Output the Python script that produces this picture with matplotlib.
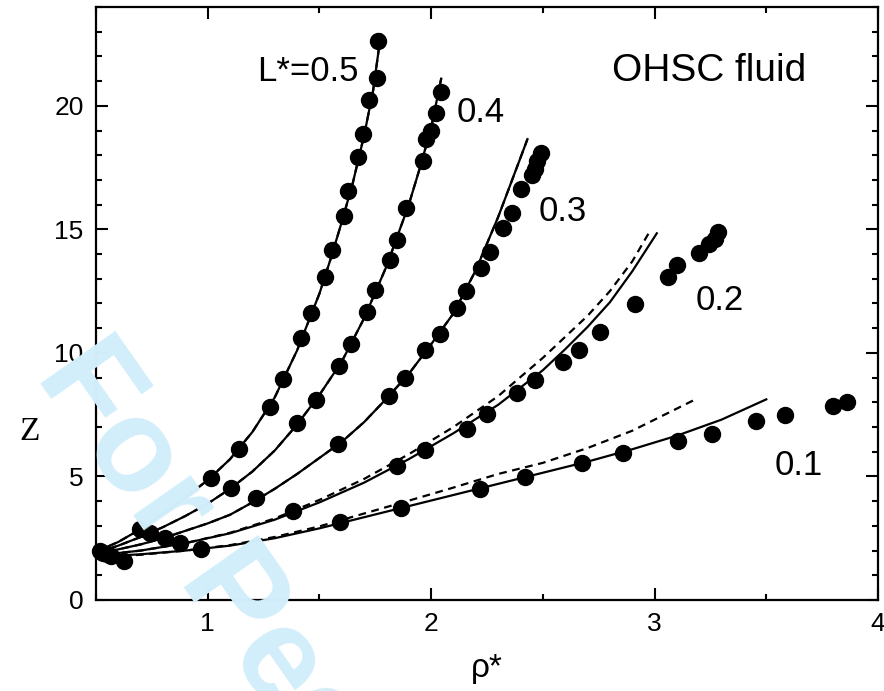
import numpy as np
import matplotlib.pyplot as plt
from matplotlib.ticker import MultipleLocator

plt.rcParams['font.family'] = ['Liberation Sans', 'DejaVu Sans']

# simulation points (rho*, Z) for each elongation L*
rho_05 = [0.52, 0.698, 1.013, 1.140, 1.281, 1.337, 1.416, 1.463, 1.526, 1.556, 1.608, 1.630, 1.674, 1.697, 1.723, 1.756, 1.763]
z_05 = [1.98, 2.87, 4.94, 6.13, 7.81, 8.96, 10.60, 11.60, 13.09, 14.18, 15.56, 16.57, 17.91, 18.86, 20.24, 21.12, 22.63]
rho_04 = [0.53, 0.743, 1.102, 1.400, 1.486, 1.589, 1.640, 1.714, 1.748, 1.815, 1.848, 1.886, 1.963, 1.978, 2.001, 2.023, 2.042]
z_04 = [1.92, 2.73, 4.54, 7.16, 8.08, 9.45, 10.35, 11.67, 12.55, 13.74, 14.57, 15.87, 17.78, 18.65, 18.99, 19.70, 20.57]
rho_03 = [0.55, 0.810, 1.218, 1.585, 1.811, 1.883, 1.974, 2.038, 2.115, 2.157, 2.225, 2.264, 2.322, 2.360, 2.402, 2.453, 2.465, 2.475, 2.490]
z_03 = [1.85, 2.49, 4.11, 6.30, 8.26, 9.00, 10.10, 10.77, 11.81, 12.50, 13.43, 14.10, 15.05, 15.66, 16.63, 17.20, 17.45, 17.75, 18.08]
rho_02 = [0.566, 0.874, 1.382, 1.845, 1.971, 2.160, 2.252, 2.386, 2.463, 2.590, 2.660, 2.758, 2.914, 3.059, 3.099, 3.199, 3.243, 3.270, 3.285]
z_02 = [1.78, 2.29, 3.59, 5.41, 6.09, 6.93, 7.54, 8.38, 8.92, 9.62, 10.13, 10.84, 11.99, 13.06, 13.54, 14.03, 14.41, 14.61, 14.88]
rho_01 = [0.624, 0.969, 1.592, 1.867, 2.219, 2.421, 2.676, 2.859, 3.107, 3.255, 3.453, 3.585, 3.800, 3.861]
z_01 = [1.57, 2.06, 3.14, 3.74, 4.51, 4.96, 5.56, 5.93, 6.42, 6.73, 7.23, 7.50, 7.85, 8.01]

# theory curves, solid
th_x_05 = [0.5, 0.6, 0.7, 0.8, 0.9, 1.0, 1.1, 1.2, 1.3, 1.4, 1.5, 1.55, 1.6, 1.65, 1.7, 1.74, 1.775]
th_y_05 = [1.95, 2.35, 2.87, 3.5, 4.15, 4.85, 5.7, 6.8, 8.2, 10.1, 12.4, 13.8, 15.3, 16.9, 18.8, 20.6, 22.9]
th_x_04 = [0.5, 0.6, 0.7, 0.8, 0.9, 1.0, 1.1, 1.2, 1.3, 1.4, 1.5, 1.6, 1.7, 1.8, 1.9, 1.95, 2.0, 2.045]
th_y_04 = [1.9, 2.2, 2.55, 2.95, 3.4, 3.9, 4.5, 5.2, 6.05, 7.1, 8.3, 9.65, 11.4, 13.5, 16.0, 17.5, 19.1, 21.1]
th_x_03 = [0.5, 0.6, 0.7, 0.8, 0.9, 1.0, 1.1, 1.2, 1.3, 1.4, 1.5, 1.6, 1.7, 1.8, 1.9, 2.0, 2.1, 2.2, 2.3, 2.4, 2.431]
th_y_03 = [1.85, 2.05, 2.25, 2.5, 2.8, 3.1, 3.45, 3.95, 4.5, 5.1, 5.75, 6.4, 7.2, 8.15, 9.15, 10.35, 11.6, 13.35, 15.5, 17.9, 18.65]
th_x_02 = [0.5, 0.7, 0.9, 1.1, 1.3, 1.5, 1.7, 1.9, 2.1, 2.3, 2.5, 2.6, 2.7, 2.8, 2.9, 3.01]
th_y_02 = [1.8, 2.0, 2.3, 2.7, 3.25, 3.95, 4.75, 5.7, 6.75, 7.9, 9.3, 10.15, 11.05, 12.05, 13.3, 14.84]
th_x_01 = [0.5, 0.7, 0.9, 1.1, 1.3, 1.5, 1.7, 1.9, 2.1, 2.3, 2.5, 2.7, 2.9, 3.1, 3.3, 3.5]
th_y_01 = [1.75, 1.85, 2.0, 2.2, 2.5, 2.9, 3.35, 3.8, 4.25, 4.7, 5.15, 5.6, 6.1, 6.65, 7.3, 8.12]

# second theory (dashed); for L*=0.3-0.5 it lies on top of the solid one
da_x_02 = [0.5, 0.7, 0.9, 1.1, 1.3, 1.5, 1.7, 1.9, 2.1, 2.3, 2.5, 2.7, 2.8, 2.9, 2.978]
da_y_02 = [1.8, 2.0, 2.3, 2.72, 3.3, 4.05, 4.9, 5.9, 7.0, 8.25, 9.8, 11.5, 12.5, 13.7, 14.91]
da_x_01 = [0.5, 0.7, 0.9, 1.1, 1.3, 1.5, 1.7, 1.9, 2.1, 2.3, 2.5, 2.7, 2.9, 3.174]
da_y_01 = [1.72, 1.83, 2.0, 2.22, 2.55, 2.98, 3.5, 4.02, 4.55, 5.1, 5.55, 6.15, 6.85, 8.08]

labels = ['L*=0.5', '0.4', '0.3', '0.2', '0.1']
label_x = [1.223, 2.114, 2.483, 3.183, 3.539]
label_y = [21.0, 19.35, 15.35, 11.72, 5.05]

fig = plt.figure(figsize=(8.84, 6.91), dpi=100)
ax = fig.add_axes([0.1086, 0.1317, 0.8846, 0.8582])

# watermark
fig.text(35 / 884, 1 - 375 / 691, 'For Peer Review', color='#d2eefb', fontsize=95,
         fontweight='bold', rotation=-55, rotation_mode='anchor',
         ha='left', va='baseline', zorder=0)
ax.patch.set_alpha(0)

solid = [(th_x_05, th_y_05), (th_x_04, th_y_04), (th_x_03, th_y_03), (th_x_02, th_y_02), (th_x_01, th_y_01)]
dashed = [(th_x_05, th_y_05), (th_x_04, th_y_04), (th_x_03, th_y_03), (da_x_02, da_y_02), (da_x_01, da_y_01)]
pts = [(rho_05, z_05), (rho_04, z_04), (rho_03, z_03), (rho_02, z_02), (rho_01, z_01)]

for (xs, ys) in dashed:
    ax.plot(xs, ys, color='black', lw=1.6, ls=(0, (3.5, 2.5)), zorder=2)
for (xs, ys) in solid:
    ax.plot(xs, ys, color='black', lw=1.6, zorder=2)
for (xs, ys) in pts:
    ax.plot(xs, ys, 'o', color='black', ms=11.5, zorder=3, clip_on=False)

for t, x, y in zip(labels, label_x, label_y):
    ax.text(x, y, t, fontsize=25, ha='left', va='baseline')
ax.text(2.808, 21.0, 'OHSC fluid', fontsize=28, ha='left', va='baseline')

ax.set_xlim(0.5, 4)
ax.set_ylim(0, 24)
ax.xaxis.set_major_locator(MultipleLocator(1))
ax.xaxis.set_minor_locator(MultipleLocator(0.5))
ax.yaxis.set_major_locator(MultipleLocator(5))
ax.yaxis.set_minor_locator(MultipleLocator(1))
ax.tick_params(which='both', direction='in', top=True, right=True, width=1.5, labelsize=19)
ax.tick_params(which='major', length=8.6, pad=9)
ax.tick_params(which='minor', length=4.5)
for s in ax.spines.values():
    s.set_linewidth(1.6)

fig.text(487 / 884, 1 - 668 / 691, 'ρ*', fontsize=24, ha='center', va='center')
fig.text(30 / 884, 1 - 432 / 691, 'Z', fontsize=24, family='Liberation Serif', ha='center', va='center')

fig.savefig('out.png', dpi=100)
